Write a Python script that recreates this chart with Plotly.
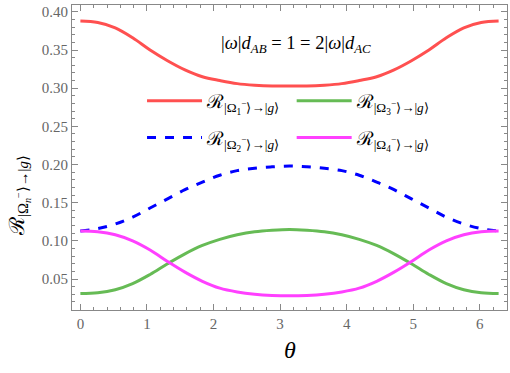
import plotly.graph_objects as go

# values (theta in steps of pi/12)
theta = [0.0, 0.262, 0.524, 0.785, 1.047, 1.309, 1.571, 1.833, 2.094, 2.356, 2.618, 2.880, 3.142,
         3.403, 3.665, 3.927, 4.189, 4.451, 4.712, 4.974, 5.236, 5.498, 5.760, 6.021, 6.283]
r1 = [0.388, 0.386, 0.379, 0.366, 0.350, 0.336, 0.324, 0.315, 0.310, 0.306, 0.304, 0.303, 0.303,
      0.303, 0.304, 0.306, 0.310, 0.315, 0.324, 0.336, 0.350, 0.366, 0.379, 0.386, 0.388]
r2 = [0.113, 0.116, 0.122, 0.131, 0.143, 0.155, 0.167, 0.177, 0.186, 0.192, 0.195, 0.197, 0.198,
      0.197, 0.195, 0.192, 0.186, 0.177, 0.167, 0.155, 0.143, 0.131, 0.122, 0.116, 0.113]
r3 = [0.031, 0.032, 0.036, 0.044, 0.056, 0.070, 0.083, 0.094, 0.102, 0.108, 0.112, 0.114, 0.115,
      0.114, 0.112, 0.108, 0.102, 0.094, 0.083, 0.070, 0.056, 0.044, 0.036, 0.032, 0.031]
r4 = [0.113, 0.112, 0.108, 0.100, 0.088, 0.073, 0.059, 0.047, 0.038, 0.033, 0.030, 0.0285, 0.028,
      0.0285, 0.030, 0.033, 0.038, 0.047, 0.059, 0.073, 0.088, 0.100, 0.108, 0.112, 0.113]

def lbl(n):
    return "ℛ<sub>|Ω<sub>%d</sub><sup>−</sup>⟩→|<i>g</i>⟩</sub>" % n

fig = go.Figure()
fig.add_trace(go.Scatter(x=theta, y=r1, mode="lines", name=lbl(1), line=dict(color="#FF5050", width=3, shape="spline"),
                         legend="legend", legendgroup="a"))
fig.add_trace(go.Scatter(x=theta, y=r2, mode="lines", name=lbl(2), line=dict(color="#0000FF", width=3, dash="dash", shape="spline"),
                         legend="legend", legendgroup="b"))
fig.add_trace(go.Scatter(x=theta, y=r3, mode="lines", name=lbl(3), line=dict(color="#66BB55", width=3, shape="spline"),
                         legend="legend2", legendgroup="c"))
fig.add_trace(go.Scatter(x=theta, y=r4, mode="lines", name=lbl(4), line=dict(color="#FF40FF", width=3, shape="spline"),
                         legend="legend2", legendgroup="d"))

axis_common = dict(showline=True, linecolor="#888888", linewidth=1, mirror="allticks", automargin=False,
                   ticks="inside", ticklen=6, tickcolor="#888888", showgrid=False, zeroline=False,
                   tickfont=dict(family="Liberation Serif", size=15, color="#666666"))

fig.update_xaxes(range=[-0.126, 6.409], dtick=1, tick0=0,
                 minor=dict(ticks="inside", dtick=0.2, ticklen=3, tickcolor="#888888"),
                 **axis_common)
fig.update_yaxes(range=[0.0094, 0.409], dtick=0.05, tick0=0, tickformat=".2f",
                 minor=dict(ticks="inside", dtick=0.01, ticklen=3, tickcolor="#888888"),
                 **axis_common)

legend_common = dict(bgcolor="rgba(0,0,0,0)", font=dict(family="Liberation Serif", size=19, color="black"),
                     itemwidth=55, tracegroupgap=9, xanchor="left", yanchor="top")
fig.update_layout(
    width=510, height=373,
    margin=dict(l=72, r=3, t=5, b=63),
    paper_bgcolor="white", plot_bgcolor="white",
    legend=dict(x=0.161, y=0.748, **legend_common),
    legend2=dict(x=0.505, y=0.748, **legend_common),
    annotations=[
        dict(text="|<i>ω</i>|<i>d</i><sub><i>AB</i></sub> = 1 = 2|<i>ω</i>|<i>d</i><sub><i>AC</i></sub>",
             x=0.516, y=0.869, xref="paper", yref="paper", showarrow=False, xanchor="center", yanchor="middle",
             font=dict(family="Liberation Serif", size=18.5, color="black")),
        dict(text="<i>θ</i>", x=0.50, y=-0.131, xref="paper", yref="paper", showarrow=False,
             xanchor="center", yanchor="middle",
             font=dict(family="Liberation Serif", size=24, color="black")),
        dict(text="ℛ<sub>|Ω<sub><i>n</i></sub><sup>−</sup>⟩→|<i>g</i>⟩</sub>", x=-0.122, y=0.377,
             xref="paper", yref="paper", showarrow=False, textangle=-90, xanchor="center", yanchor="middle",
             font=dict(family="Liberation Serif", size=21, color="black")),
    ],
)

# the page body has a default 8px margin; drop it so the figure fills the window
fig.write_html("out.html", config={"displayModeBar": False},
               post_script="document.body.style.margin='0';")
